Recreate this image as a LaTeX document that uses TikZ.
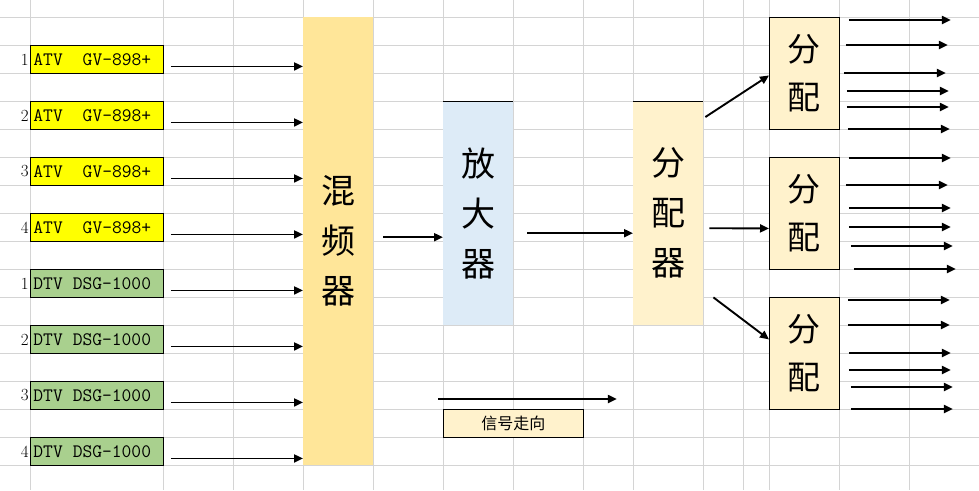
\documentclass[tikz,border=0pt]{standalone}
\usepackage{fontspec}
\newfontfamily\cjk{Noto Sans CJK SC}
\usetikzlibrary{arrows.meta}
\definecolor{cellgray}{HTML}{D4D4D4}
\definecolor{atvfill}{HTML}{FFFF00}
\definecolor{dtvfill}{HTML}{A9D08E}
\definecolor{mixfill}{HTML}{FFE699}
\definecolor{ampfill}{HTML}{DDEBF7}
\definecolor{splfill}{HTML}{FFF2CC}
\newcommand{\tsp}{\hspace{0.525em}}
\tikzset{
  cellline/.style={draw=cellgray, line width=0.9pt},
  sig/.style={-{Triangle[length=9pt,width=8pt]}, line width=1.9pt},
  srcbox/.style={draw, line width=0.9pt, anchor=north west, minimum width=133pt,
    minimum height=28pt, inner xsep=3pt, text width=127pt, align=left,
    font=\ttfamily\fontsize{19}{19}\selectfont},
  numlab/.style={anchor=east, inner sep=1pt, font=\fontsize{17}{17}\selectfont},
  colbox/.style={anchor=north west, inner sep=0pt, align=center,
    font=\cjk\fontsize{34}{50}\selectfont},
  splbox/.style={colbox, draw, line width=0.9pt, fill=splfill, minimum width=70pt,
    minimum height=112pt, font=\cjk\fontsize{33}{48}\selectfont}
}
\begin{document}
\begin{tikzpicture}[x=1pt,y=-1pt]
\useasboundingbox (0,0) rectangle (979,490);
\fill[white] (0,0) rectangle (979,490);
\foreach \x in {30,163,233,303,373,443,513,583,633,703,743,769,839,909}
  \draw[cellline] (\x,0) -- (\x,490);
\foreach \k in {0,...,16}
  \draw[cellline] (0,{17+28*\k}) -- (979,{17+28*\k});

\node[colbox, fill=mixfill, minimum width=70pt, minimum height=448pt] (mix) at (303,17) {混\\频\\器};
\node[colbox, fill=ampfill, minimum width=70pt, minimum height=224pt] (amp) at (443,101) {放\\大\\器};
\node[colbox, fill=splfill, minimum width=70pt, minimum height=224pt] (dist) at (633,101) {分\\配\\器};
\draw[line width=0.9pt] (amp.north west) -- (amp.north east);
\draw[line width=0.9pt] (dist.north west) -- (dist.north east);

\foreach \i/\y in {1/45,2/101,3/157,4/213} {
  \node[srcbox, fill=atvfill] (atv\i) at (30,\y) {ATV\tsp\tsp GV-898+};
  \node[numlab] at (atv\i.west) {\i};
  \draw[sig] ([xshift=7pt,yshift=-7pt]atv\i.east) -- ([yshift=-7pt]atv\i.east -| mix.west);
}
\foreach \i/\y in {1/269,2/325,3/381,4/437} {
  \node[srcbox, fill=dtvfill] (dtv\i) at (30,\y) {DTV\tsp DSG-1000};
  \node[numlab] at (dtv\i.west) {\i};
  \draw[sig] ([xshift=7pt,yshift=-7pt]dtv\i.east) -- ([yshift=-7pt]dtv\i.east -| mix.west);
}

\draw[sig] ([xshift=10pt,yshift=4pt]mix.east) -- ([yshift=4pt]mix.east -| amp.west);
\draw[sig] ([xshift=14pt,yshift=-20pt]amp.east) -- ([yshift=-20pt]dist.west);

\node[splbox] (sd1) at (769,17) {分\\配};
\node[splbox] (sd2) at (769,157) {分\\配};
\node[splbox] (sd3) at (769,297) {分\\配};
\draw[sig] ([xshift=2pt,yshift=-16pt]dist.north east) -- ([yshift=-2pt]sd1.west);
\draw[sig] ([xshift=6pt,yshift=-15pt]dist.east) -- ([yshift=-15pt]sd2.west);
\draw[sig] ([xshift=10pt,yshift=28pt]dist.south east) -- ([yshift=14pt]sd3.west);

\foreach \n/\ys in {sd1/{3/9,28/6,56/4,74/7,90/7,112/8},
                    sd2/{1/9,28/6,51/9,70/9,89/11,112/14},
                    sd3/{3/8,28/8,56/9,73/9,90/11,112/11}}
  \foreach \dy/\dx in \ys
    \draw[sig] ([xshift=\dx pt,yshift=-\dy pt]\n.north east) -- ++(102,0);

\node[draw, line width=0.9pt, fill=splfill, anchor=north west, minimum width=140pt,
  minimum height=28pt, inner sep=0pt, font=\cjk\fontsize{16}{16}\selectfont] (leg) at (443,409) {信号走向};
\draw[sig] ([xshift=-5pt,yshift=10pt]leg.north west) -- ([xshift=33pt,yshift=10pt]leg.north east);
\end{tikzpicture}
\end{document}
